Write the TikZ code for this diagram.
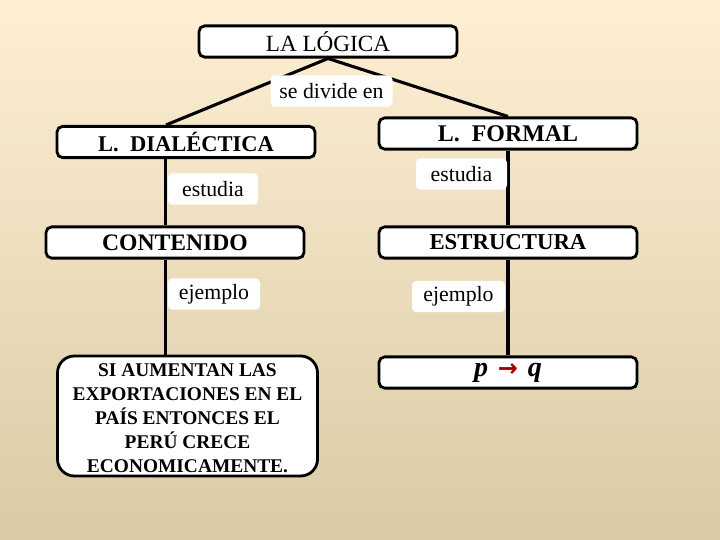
\documentclass[tikz,border=0pt]{standalone}
\usepackage{fontspec}
\setmainfont{Liberation Serif}
\newfontfamily\flechafont{DejaVu Sans}
\usetikzlibrary{positioning,shapes}

\definecolor{bgtop}{HTML}{FEEFD4}
\definecolor{bgmid}{HTML}{F1E8D2}
\definecolor{bgbot}{HTML}{D9CBA5}
\definecolor{flecha}{HTML}{A00000}

\begin{document}
\begin{tikzpicture}[
caja/.style={rectangle, draw=black, line width=2pt, fill=white, rounded corners=4pt,
align=center, inner sep=2pt, minimum width=6.45cm, minimum height=0.78cm,
font=\fontsize{16}{18}\selectfont\bfseries},
etiqueta/.style={rectangle, fill=white, rounded corners=3pt, inner sep=2pt,
minimum height=0.78cm, font=\fontsize{15.5}{17}\selectfont},
enlace/.style={line width=2.2pt}
]
% fondo
\shade[top color=bgtop, middle color=bgmid, bottom color=bgbot] (0,0) rectangle (18,13.5);
\useasboundingbox (0,0) rectangle (18,13.5);

\node[caja, font=\fontsize{16.5}{20}\selectfont] at (8.2, 12.4625) (logica) {LA LÓGICA};

\node[caja] at (4.65, 9.95) (dialectica) {L.\ \ DIALÉCTICA};

\node[caja, font=\fontsize{17}{18}\selectfont\bfseries] at (12.7, 10.1625) (formal) {L.\ \ FORMAL};

\node[caja, font=\fontsize{16.8}{18}\selectfont\bfseries] at (4.375, 7.4375) (contenido) {CONTENIDO};

\node[caja, font=\fontsize{16.2}{18}\selectfont\bfseries] at (12.7, 7.4375) (estructura) {ESTRUCTURA};

\node[caja, rounded corners=12pt, minimum width=6.5cm, minimum height=3.0cm,
label={[align=center, yshift=-1.5pt, font=\fontsize{13.8}{17}\selectfont\bfseries]center:
SI AUMENTAN LAS\\EXPORTACIONES EN EL\\PAÍS ENTONCES EL\\PERÚ CRECE\\ECONOMICAMENTE.}]
at (4.6875, 3.1) (ejemplo) {};

\node[caja, text height=10pt, text depth=5pt, align=none,
font=\fontsize{20}{22}\selectfont\bfseries\itshape] at (12.7, 4.1875) (pq) {
p\hspace{7pt}{\flechafont\upshape\fontsize{17}{18}\selectfont\color{flecha}→}\hspace{7pt}q};

% uniones
\coordinate (izq) at (4.13, 0);
\coordinate (izqB) at (4.15, 0);
\draw[enlace] (logica.south) -- (dialectica.north -| izqB);
\draw[enlace] (logica.south) -- (formal.north);
\draw[enlace] (dialectica.south -| izq) -- (contenido.north -| izq);
\draw[enlace] (contenido.south -| izq) -- (ejemplo.north -| izq);
\draw[enlace] (formal.south) -- (estructura.north);
\draw[enlace] (estructura.south) -- (pq.north);

% etiquetas
\node[etiqueta, minimum width=3.05cm] at (8.2875, 11.225) (divide) {se divide en};
\node[etiqueta, minimum width=2.25cm] at (5.325, 8.775) (estudiaA) {estudia};
\node[etiqueta, minimum width=2.275cm] at (11.5375, 9.15) (estudiaB) {estudia};
\node[etiqueta, minimum width=2.3cm] at (5.35, 6.15) (ejemploA) {ejemplo};
\node[etiqueta, minimum width=2.325cm] at (11.4625, 6.0875) (ejemploB) {ejemplo};

\end{tikzpicture}
\end{document}
